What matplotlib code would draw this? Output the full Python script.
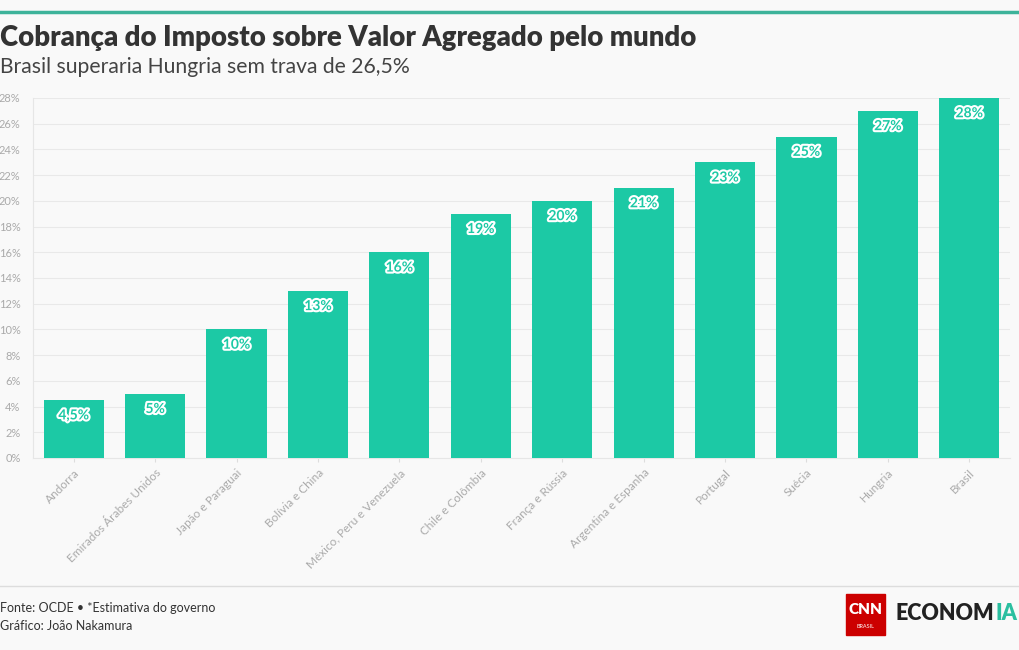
import matplotlib.pyplot as plt
import matplotlib.patheffects as pe
from matplotlib.patches import Rectangle
from matplotlib.lines import Line2D

# --- data ---
paises = ['Andorra', 'Emirados Árabes Unidos', 'Japão e Paraguai', 'Bolívia e China',
          'México, Peru e Venezuela', 'Chile e Colômbia', 'França e Rússia',
          'Argentina e Espanha', 'Portugal', 'Suécia', 'Hungria', 'Brasil']
iva = [4.5, 5, 10, 13, 16, 19, 20, 21, 23, 25, 27, 28]
rotulos = ['4,5%', '5%', '10%', '13%', '16%', '19%', '20%', '21%', '23%', '25%', '27%', '28%']
yticks = list(range(0, 29, 2))

W, H = 1020, 650
bg = '#f9f9f9'
teal = '#1cc9a5'
plt.rcParams['font.family'] = ['Lato', 'DejaVu Sans']

fig = plt.figure(figsize=(W / 100, H / 100), dpi=100, facecolor=bg)

def px(x, y):
    return x / W, 1 - y / H

# top accent line and footer separator
fig.add_artist(Line2D([0, 1], [px(0, 12)[1]] * 2, color='#3db39a', lw=2.5))
fig.add_artist(Line2D([0, 1], [px(0, 586)[1]] * 2, color='#dddddd', lw=1))

# titles
fig.text(*px(0, 38), 'Cobrança do Imposto sobre Valor Agregado pelo mundo',
         fontsize=19.8, fontweight='heavy', color='#333333', va='center')
fig.text(*px(0, 67), 'Brasil superaria Hungria sem trava de 26,5%',
         fontsize=15.2, color='#444444', va='center')

# plot area
ax = fig.add_axes([33 / W, (H - 458) / H, (1010 - 33) / W, (458 - 98) / H])
ax.set_facecolor(bg)
x = range(len(paises))
bars = ax.bar(x, iva, width=0.74, color=teal, zorder=3)
ax.set_xlim(-0.5, len(paises) - 0.5)
ax.set_ylim(0, 28)
ax.set_yticks(yticks)
ax.set_yticklabels([f'{t}%' for t in yticks])
ax.grid(axis='y', color='#e9e9e9', lw=0.8, zorder=0)
for s in ['top', 'right']:
    ax.spines[s].set_visible(False)
ax.spines['left'].set_color('#e6e6e6')
ax.spines['bottom'].set_color('#e6e6e6')
ax.tick_params(axis='y', length=0, labelsize=8, labelcolor='#aaaaaa', pad=9)
ax.tick_params(axis='x', length=3, color='#dddddd', labelsize=8.5, labelcolor='#aaaaaa')
ax.set_xticks(list(x))
ax.set_xticklabels(paises, rotation=45, ha='right', rotation_mode='anchor')

for b, lab in zip(bars, rotulos):
    ax.annotate(lab, (b.get_x() + b.get_width() / 2, b.get_height()),
                xytext=(0, -11), textcoords='offset points', ha='center', va='center',
                fontsize=10, fontweight='bold', color=teal, zorder=5,
                path_effects=[pe.withStroke(linewidth=3, foreground='white')])

# footer
fig.text(*px(0, 608), 'Fonte: OCDE • *Estimativa do governo', fontsize=9,
         color='#333333', va='center')
fig.text(*px(0, 626), 'Gráfico: João Nakamura', fontsize=9, color='#333333', va='center')

# logo
x0, y0 = px(846, 635)
fig.add_artist(Rectangle((x0, y0), 39 / W, 41 / H, color='#cc0000', transform=fig.transFigure))
fig.text(*px(865.5, 610), 'CNN', fontsize=11, fontweight='heavy', color='white',
         ha='center', va='center')
fig.text(*px(865.5, 627), 'BRASIL', fontsize=4, color='white', ha='center', va='center')
eco = fig.text(*px(896, 614), 'ECONOM', fontsize=15.5, fontweight='heavy', color='#222222',
               va='center')
fig.text(0, 0, 'IA', fontsize=15.5, fontweight='heavy', color='#2bbfa0', va='center')
ia = fig.texts[-1]
fig.canvas.draw()
bb = eco.get_window_extent(fig.canvas.get_renderer())
ia.set_position(((bb.x1 + 1) / W, px(0, 614)[1]))

fig.savefig('out.png', dpi=100, facecolor=bg)
